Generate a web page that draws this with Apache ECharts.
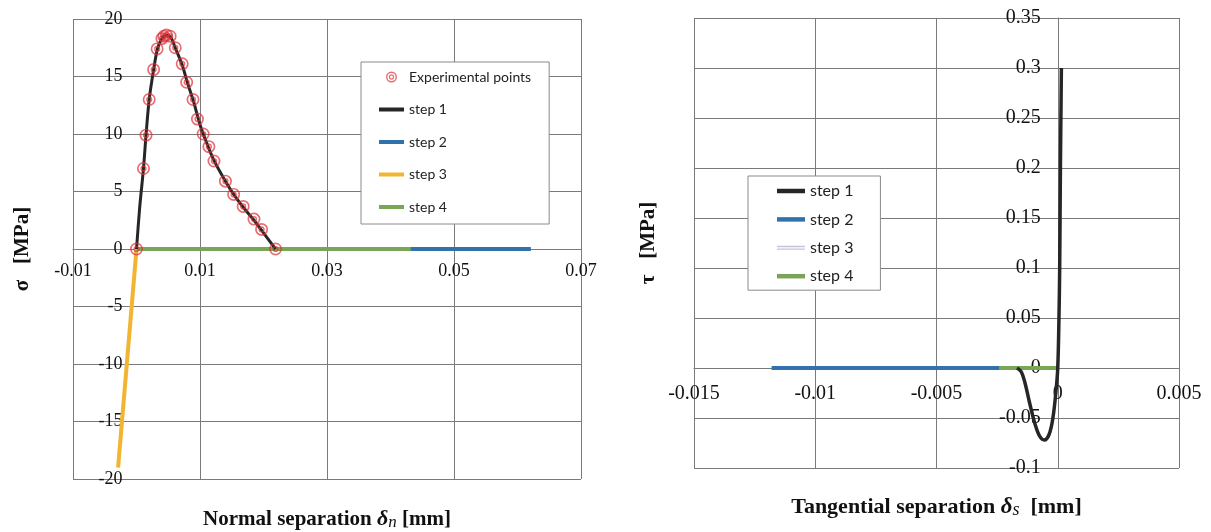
<!DOCTYPE html>
<html>
<head>
<meta charset="utf-8">
<script src="https://cdn.jsdelivr.net/npm/echarts@6/dist/echarts.min.js"></script>
<style>
html,body{margin:0;padding:0;background:#fff;}
#chart{width:1211px;height:532px;}
</style>
</head>
<body>
<div id="chart"></div>
<script>
// ---------- Left chart: normal separation vs sigma ----------
const leftXMin = -0.01, leftXMax = 0.07, leftXStep = 0.01;
const leftYMin = -20, leftYMax = 20, leftYStep = 5;

const expPoints = [[0,0],[0.0011,7.0],[0.0015,9.9],[0.0020,13.0],[0.0027,15.6],[0.00325,17.4],
  [0.0040,18.3],[0.0043,18.5],[0.0047,18.6],[0.0053,18.5],[0.0061,17.5],[0.0072,16.1],
  [0.0079,14.5],[0.0089,13.0],[0.0096,11.3],[0.0105,10.0],[0.0114,8.9],[0.0122,7.65],
  [0.0140,5.9],[0.0153,4.75],[0.0168,3.7],[0.0185,2.6],[0.0197,1.7],[0.0219,0]];
const leftStep1 = [[0,0],[0.0005,3.6],[0.0011,7.0],[0.0015,9.9],[0.002,13.0],[0.0027,15.6],
  [0.0033,17.4],[0.004,18.3],[0.0047,18.6],[0.0054,18.4],[0.0061,17.5],[0.0072,16.0],
  [0.008,14.5],[0.009,12.8],[0.01,10.8],[0.011,9.3],[0.0122,7.7],[0.014,5.9],[0.0155,4.6],
  [0.017,3.5],[0.0185,2.5],[0.02,1.4],[0.0219,0]];
const leftStep2 = [[0,0],[0.0621,0]];
const leftStep3 = [[0,0],[-0.0029,-19.0]];
const leftStep4 = [[0,0],[0.0432,0]];

// ---------- Right chart: tangential separation vs tau ----------
const rightXMin = -0.015, rightXMax = 0.005, rightXStep = 0.005;
const rightYMin = -0.1, rightYMax = 0.35, rightYStep = 0.05;

const rightStep1 = [[-0.00168,0],[-0.0015,-0.004],[-0.00135,-0.015],[-0.00115,-0.036],
  [-0.00095,-0.055],[-0.00075,-0.068],[-0.00055,-0.072],[-0.00035,-0.066],[-0.0002,-0.05],
  [-0.00008,-0.025],[0,0],[0.00005,0.05],[0.00008,0.1],[0.00011,0.2],[0.00015,0.3]];
const rightStep2 = [[-0.0118,0],[0,0]];
const rightStep3 = [[-0.0024,0],[0,0]];
const rightStep4 = [[-0.0024,0],[0,0]];

const rightPrefix = 'τ ';

const C_BLACK = '#262626', C_BLUE = '#3172ad', C_YELLOW = '#f2b531', C_GREEN = '#7aa556',
      C_GRAY3 = '#c4c4d6', C_RED = 'rgba(220,48,54,0.88)', C_GRID = '#7a7a7a';
const SERIF = '"Liberation Serif","Times New Roman",serif';
const SANS = 'Lato,"Open Sans",sans-serif';

const bullseye = 'path://M0,-10A10,10 0 1,1 0,10A10,10 0 1,1 0,-10Z M0,-7.4A7.4,7.4 0 1,0 0,7.4A7.4,7.4 0 1,0 0,-7.4Z M0,-4.8A4.8,4.8 0 1,1 0,4.8A4.8,4.8 0 1,1 0,-4.8Z M0,-2.6A2.6,2.6 0 1,0 0,2.6A2.6,2.6 0 1,0 0,-2.6Z';
const barL = 'path://M0,0H25V4H0Z';
const barR = 'path://M0,0H28V4.5H0Z';
const dblR = 'path://M0,0H28V1.3H0Z M0,2.6H28V3.9H0Z';

function fmt(v){ return String(Math.round(v*10000)/10000); }

const chart = echarts.init(document.getElementById('chart'), null, {renderer:'canvas'});

function lineSeries(name, data, color, width, xi, z, smooth){
  return {name, type:'line', xAxisIndex:xi, yAxisIndex:xi, data, showSymbol:false, symbol:'none',
    smooth: smooth || false, z, lineStyle:{color, width}, itemStyle:{color}, animation:false};
}

chart.setOption({
  animation:false,
  grid:[
    {left:73, top:19, width:508, height:460, containLabel:false, outerBoundsMode:'none'},
    {left:694, top:18, width:485, height:450, containLabel:false, outerBoundsMode:'none'}
  ],
  xAxis:[
    {type:'value', gridIndex:0, min:leftXMin, max:leftXMax, interval:leftXStep, position:'bottom',
     axisLine:{onZero:false, lineStyle:{color:C_GRID, width:1}}, axisTick:{show:false},
     axisLabel:{margin:13, color:'#111', fontFamily:SERIF, fontSize:18, hideOverlap:false,
       showMinLabel:true, showMaxLabel:true,
       formatter:function(v){ const k=Math.round((v-leftXMin)/leftXStep); return k%2===0? fmt(v):''; }},
     splitLine:{show:true, lineStyle:{color:[C_GRID,'rgba(0,0,0,0)'], width:1}},
     name:'{b|Normal separation }{d|δ}{n|n}{b| [mm]}', nameLocation:'middle', nameGap:259,
     nameTextStyle:{rich:{
       b:{fontFamily:SERIF, fontWeight:'bold', fontSize:21, color:'#111'},
       d:{fontFamily:SERIF, fontStyle:'italic', fontWeight:'bold', fontSize:22, color:'#111'},
       n:{fontFamily:SERIF, fontStyle:'italic', fontSize:17, color:'#111', padding:[6,0,0,0]}}}
    },
    {type:'value', gridIndex:1, min:rightXMin, max:rightXMax, interval:rightXStep, position:'bottom',
     axisLine:{onZero:false, lineStyle:{color:C_GRID, width:1}}, axisTick:{show:false},
     axisLabel:{margin:16, color:'#111', fontFamily:SERIF, fontSize:20, hideOverlap:false,
       showMinLabel:true, showMaxLabel:true, formatter:function(v){ return fmt(v); }},
     splitLine:{show:true, lineStyle:{color:C_GRID, width:1}},
     name:'{b|Tangential separation }{d|δ}{n|s}{b|  [mm]}', nameLocation:'middle', nameGap:127,
     nameTextStyle:{rich:{
       b:{fontFamily:SERIF, fontWeight:'bold', fontSize:22, color:'#111'},
       d:{fontFamily:SERIF, fontStyle:'italic', fontWeight:'bold', fontSize:23, color:'#111'},
       n:{fontFamily:SERIF, fontStyle:'italic', fontSize:18, color:'#111', padding:[6,0,0,0]}}}
    }
  ],
  yAxis:[
    {type:'value', gridIndex:0, min:leftYMin, max:leftYMax, interval:leftYStep, position:'left',
     axisLine:{show:true, onZero:false, lineStyle:{color:'rgba(0,0,0,0)'}}, axisTick:{show:false},
     axisLabel:{margin:14, color:'#111', fontFamily:SERIF, fontSize:18, showMinLabel:true, showMaxLabel:true},
     splitLine:{show:true, lineStyle:{color:C_GRID, width:1}},
     name:'σ   [MPa]', nameLocation:'middle', nameGap:103,
     nameTextStyle:{fontFamily:SERIF, fontWeight:'bold', fontSize:21, color:'#111'}
    },
    {type:'value', gridIndex:1, min:rightYMin, max:rightYMax, interval:rightYStep, position:'left',
     axisLine:{show:true, onZero:false, lineStyle:{color:C_GRID, width:1}}, axisTick:{show:false},
     axisLabel:{margin:17, color:'#111', fontFamily:SERIF, fontSize:20, showMinLabel:true, showMaxLabel:true,
       formatter:function(v){ return fmt(v); }},
     splitLine:{show:true, lineStyle:{color:C_GRID, width:1}},
     name:'τ   [MPa]', nameLocation:'middle', nameGap:399,
     nameTextStyle:{fontFamily:SERIF, fontWeight:'bold', fontSize:21, color:'#111'}
    }
  ],
  legend:[
    {orient:'vertical', left:361, top:62,
     data:[{name:'Experimental points', icon:bullseye}, {name:'step 1', icon:barL}, {name:'step 2', icon:barL},
           {name:'step 3', icon:barL}, {name:'step 4', icon:barL}],
     padding:[8,18,10,18], itemGap:18.5, itemWidth:25, itemHeight:11,
     backgroundColor:'#fff', borderColor:'#8a8a8a', borderWidth:1, borderRadius:0,
     textStyle:{fontFamily:SANS, fontSize:14, color:'#222'}, selectedMode:false},
    {orient:'vertical', left:748, top:176,
     data:[{name:rightPrefix+'step 1', icon:barR}, {name:rightPrefix+'step 2', icon:barR},
           {name:rightPrefix+'step 3', icon:dblR}, {name:rightPrefix+'step 4', icon:barR}],
     padding:[7,27,6,29], itemGap:12.4, itemWidth:28, itemHeight:14,
     backgroundColor:'#fff', borderColor:'#8a8a8a', borderWidth:1, borderRadius:0,
     formatter:function(n){ return n.replace(rightPrefix,''); },
     textStyle:{fontFamily:SANS, fontSize:16, color:'#222'}, selectedMode:false}
  ],
  series:[
    lineSeries('step 2', leftStep2, C_BLUE, 4, 0, 2),
    lineSeries('step 3', leftStep3, C_YELLOW, 4, 0, 3),
    lineSeries('step 4', leftStep4, C_GREEN, 4, 0, 4),
    lineSeries('step 1', leftStep1, C_BLACK, 3, 0, 5, 0.3),
    {name:'Experimental points', type:'scatter', xAxisIndex:0, yAxisIndex:0, data:expPoints,
     symbol:bullseye, symbolSize:13, z:6, itemStyle:{color:C_RED}, animation:false},
    lineSeries(rightPrefix+'step 2', rightStep2, C_BLUE, 4, 1, 2),
    lineSeries(rightPrefix+'step 3', rightStep3, C_GRAY3, 3, 1, 3),
    lineSeries(rightPrefix+'step 4', rightStep4, C_GREEN, 4, 1, 4),
    lineSeries(rightPrefix+'step 1', rightStep1, C_BLACK, 3.5, 1, 5, 0.35)
  ]
});

// Place each axis on the other axis's zero (as Excel does), using the library's own scales.
function zeroOffsets(gi, xMin, yMin){
  const z = chart.convertToPixel({gridIndex:gi}, [0, 0]);
  const c = chart.convertToPixel({gridIndex:gi}, [xMin, yMin]);
  return {x: z[1] - c[1], y: c[0] - z[0]};
}
const oL = zeroOffsets(0, leftXMin, leftYMin);
const oR = zeroOffsets(1, rightXMin, rightYMin);
chart.setOption({
  xAxis:[{offset:oL.x},{offset:oR.x}],
  yAxis:[{offset:oL.y},{offset:oR.y}]
});
</script>
</body>
</html>
